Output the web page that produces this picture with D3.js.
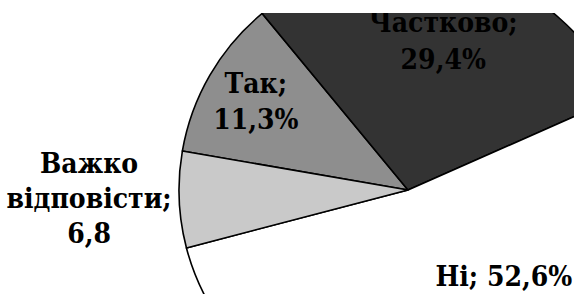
<!DOCTYPE html>
<html>
<head>
<meta charset="utf-8">
<script src="https://cdn.jsdelivr.net/npm/d3@7"></script>
<style>
  html, body { margin: 0; padding: 0; background: #fff; }
  svg { display: block; }
  .lbl { font-family: 'DejaVu Serif Condensed', 'DejaVu Serif', serif; font-stretch: condensed; font-weight: bold; }
</style>
</head>
<body>
<svg id="chart" width="574" height="294"></svg>
<script>
// slice names and shares (%), in drawing order (clockwise)
var categories = ['Так', 'Частково', 'Ні', 'Важко відповісти'];
var values = [11.3, 29.4, 52.6, 6.8];
// label text as printed in the source
var labelLines = [
  ['Так;', '11,3%'],
  ['Частково;', '29,4%'],
  ['Ні; 52,6%'],
  ['Важко', 'відповісти;', '6,8']
];

var fills = ['#8e8e8e', '#333333', '#ffffff', '#c9c9c9'];
// label anchor: angle (deg, clockwise from 12 o'clock; null = slice middle) and distance from centre
var labelAt = [
  { angle: null, r: 176, lh: 36 },
  { angle: null, r: 153, lh: 37 },
  { angle: 132, r: 129, lh: 36 },
  { angle: -91.5, r: 319, lh: 35 }
];

var width = 574, height = 294;
var cx = 408, cy = 190, radius = 229;
var fontSize = 28;

var svg = d3.select('#chart');

svg.append('defs')
  .append('clipPath')
  .attr('id', 'crop')
  .append('rect')
  .attr('x', 0)
  .attr('y', 13)
  .attr('width', width)
  .attr('height', height - 13);

var data = categories.map(function (c, i) {
  return { name: c, value: values[i], fill: fills[i], lines: labelLines[i], pos: labelAt[i] };
});

var startDeg = -80.2;
var pie = d3.pie()
  .sort(null)
  .value(function (d) { return d.value; })
  .startAngle(startDeg * Math.PI / 180)
  .endAngle((startDeg + 360) * Math.PI / 180);

var arc = d3.arc().innerRadius(0).outerRadius(radius);

var root = svg.append('g').attr('clip-path', 'url(#crop)');
var g = root.append('g').attr('transform', 'translate(' + cx + ',' + cy + ')');

var arcs = pie(data);

g.selectAll('path.slice')
  .data(arcs)
  .enter()
  .append('path')
  .attr('class', 'slice')
  .attr('d', arc)
  .attr('fill', function (d) { return d.data.fill; })
  .attr('stroke', '#000')
  .attr('stroke-width', 1.6)
  .attr('stroke-linejoin', 'round');

// labels
g.selectAll('text.lbl')
  .data(arcs)
  .enter()
  .append('text')
  .attr('class', 'lbl')
  .attr('text-anchor', 'middle')
  .style('font-size', fontSize + 'px')
  .attr('fill', '#000')
  .each(function (d) {
    var p = d.data.pos;
    var a = p.angle === null ? (d.startAngle + d.endAngle) / 2 : p.angle * Math.PI / 180;
    var x = Math.sin(a) * p.r;
    var y = -Math.cos(a) * p.r;
    var n = d.data.lines.length;
    var first = y - (n - 1) * p.lh / 2 + 0.35 * fontSize;
    var t = d3.select(this);
    d.data.lines.forEach(function (line, i) {
      t.append('tspan')
        .attr('x', x)
        .attr('y', first + i * p.lh)
        .text(line);
    });
  });
</script>
</body>
</html>
